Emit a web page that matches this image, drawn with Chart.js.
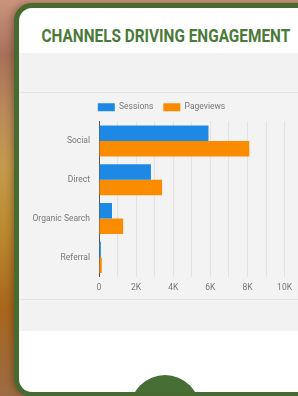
<!DOCTYPE html>
<html>
<head>
<meta charset="utf-8">
<script src="https://cdn.jsdelivr.net/npm/chart.js@4.4.0/dist/chart.umd.min.js"></script>
<style>
  html, body { margin: 0; padding: 0; }
  body {
    width: 298px; height: 396px; overflow: hidden; position: relative;
    background: linear-gradient(180deg, #c9937c 0%, #a8705a 14%, #b98a5a 28%, #c39a4c 42%, #bb8a30 58%, #a8661c 78%, #9c6c44 100%);
  }
  .card {
    position: absolute; left: 14px; top: 3px; width: 330px; height: 394px;
    box-sizing: border-box; border: 5px solid #466a30; border-radius: 18px;
    background: #fff; overflow: hidden;
    box-shadow: -2px 0 6px rgba(60, 30, 10, 0.35);
  }
  .title {
    position: absolute; left: -50px; top: 16px; width: 393px; text-align: center;
    white-space: nowrap;
  }
  .title span {
    display: inline-block; font-family: Roboto, sans-serif; font-weight: 700;
    font-size: 19px; color: #4b7a3a; transform-origin: center;
  }
  .band {
    position: absolute; left: 0; top: 45px; width: 100%; height: 278px;
    background: #f2f2f2;
  }
  .panel {
    position: absolute; left: 0; top: 39px; width: 100%; height: 206px;
    border-top: 1px solid #e4e4e4; border-bottom: 1px solid #e4e4e4;
    background: #f3f3f3;
  }
  .chartbox { position: absolute; left: 0; top: 0; width: 279px; height: 206px; }
  .dot {
    position: absolute; left: 111px; top: 367px; width: 70px; height: 70px;
    border-radius: 50%; background: #476e35;
  }
</style>
</head>
<body>
<div class="card">
  <div class="title"><span id="title">CHANNELS DRIVING ENGAGEMENT</span></div>
  <div class="band">
    <div class="panel">
      <div class="chartbox"><canvas id="chart"></canvas></div>
    </div>
  </div>
  <div class="dot"></div>
</div>
<script>
// данные
const channels = ['Social', 'Direct', 'Organic Search', 'Referral'];
const sessions = [5900, 2800, 700, 100];
const pageviews = [8100, 3400, 1300, 150];
const xTicks = [0, 2000, 4000, 6000, 8000, 10000];

// подгоняем ширину заголовка
const t = document.getElementById('title');
function fitTitle() { t.style.transform = 'scaleX(' + (249 / t.offsetWidth) + ')'; }
fitTitle();
document.fonts.ready.then(fitTitle);

const axisFont = { family: 'Roboto', size: 8.5 };

// сдвиг легенды вправо, как в оригинале
const legendShift = {
  id: 'legendShift',
  afterLayout(chart) { chart.legend.left += 9; chart.legend.right += 9; }
};

new Chart(document.getElementById('chart'), {
  type: 'bar',
  data: {
    labels: channels,
    datasets: [
      { label: 'Sessions', data: sessions, backgroundColor: '#1e88e5' },
      { label: 'Pageviews', data: pageviews, backgroundColor: '#fb8c00' }
    ]
  },
  plugins: [legendShift],
  options: {
    indexAxis: 'y',
    responsive: true,
    maintainAspectRatio: false,
    animation: false,
    datasets: { bar: { categoryPercentage: 0.8, barPercentage: 1.0 } },
    layout: { padding: { left: 0, right: 12, top: 0, bottom: 0 } },
    plugins: {
      tooltip: { enabled: false },
      legend: {
        position: 'top',
        labels: {
          boxWidth: 17, boxHeight: 8, padding: 10,
          color: '#777', font: { family: 'Roboto', size: 8.5 }
        }
      }
    },
    scales: {
      x: {
        min: 0, max: 10000,
        afterBuildTicks: s => { s.ticks = []; for (let v = 0; v <= 10000; v += 1000) s.ticks.push({ value: v }); },
        grid: { color: '#e2e2e2', drawTicks: false },
        border: { display: false },
        ticks: {
          color: '#777', font: axisFont, padding: 6, autoSkip: false, maxRotation: 0,
          callback: v => xTicks.includes(v) ? (v === 0 ? '0' : (v / 1000) + 'K') : ''
        }
      },
      y: {
        afterFit: s => { s.width = 80; },
        grid: { display: false, drawTicks: false },
        border: { display: true, color: '#555', width: 1 },
        ticks: { color: '#777', font: axisFont, padding: 9 }
      }
    }
  }
});
</script>
</body>
</html>
